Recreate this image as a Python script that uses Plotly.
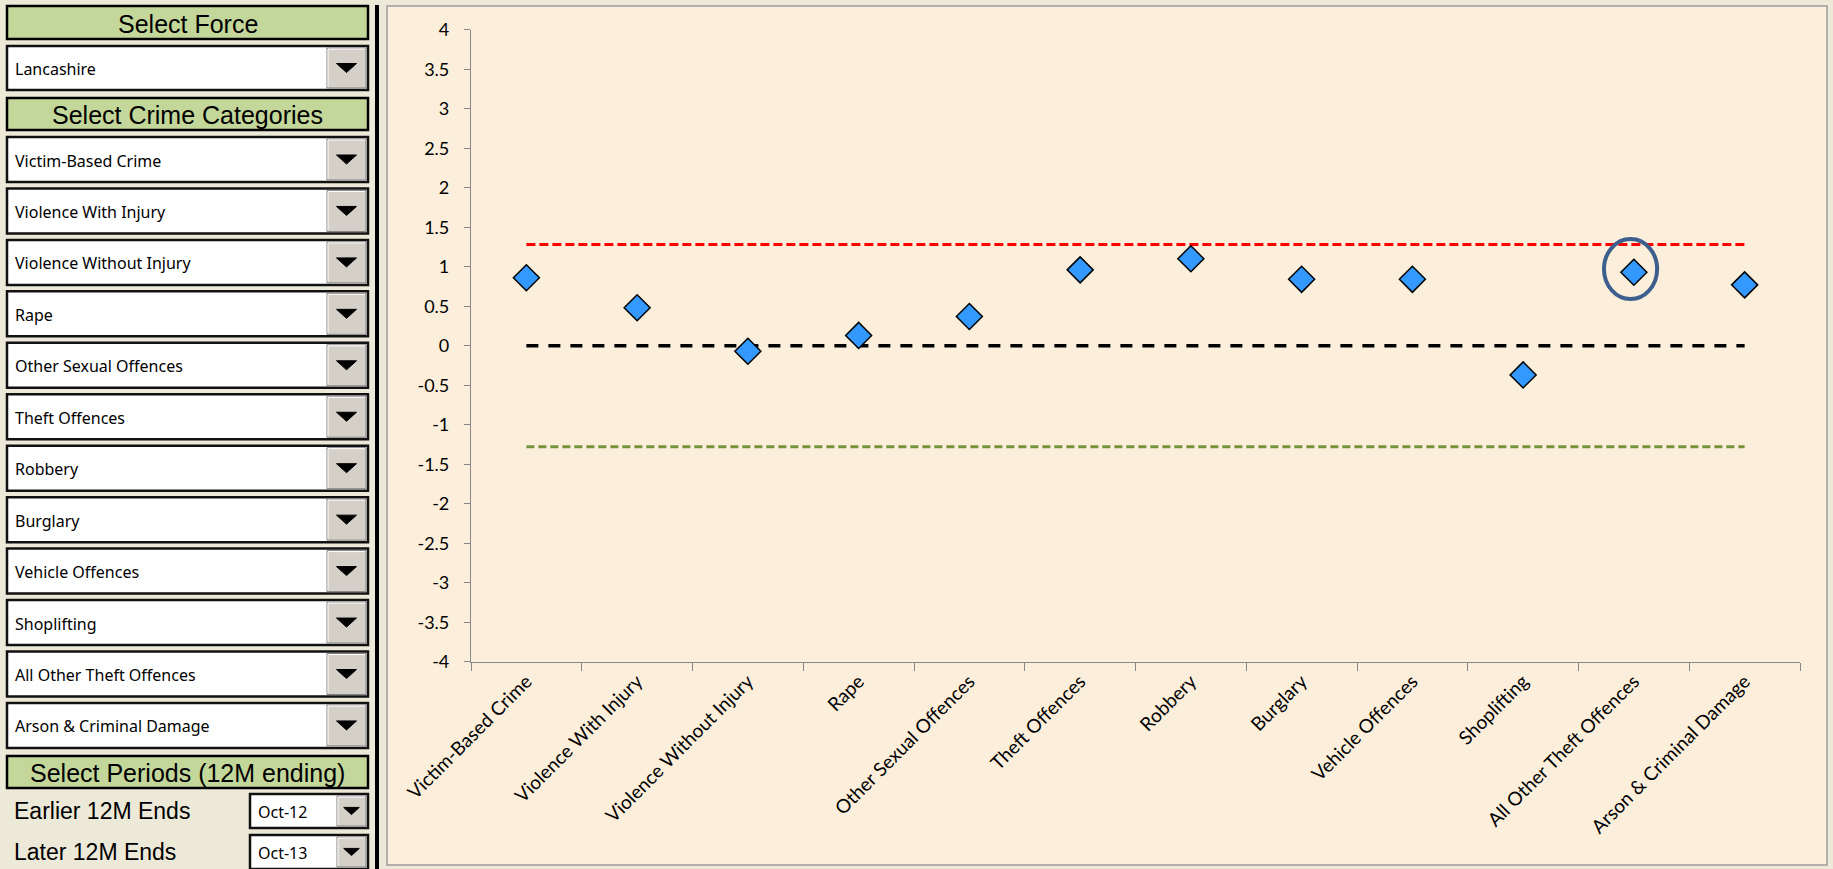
import plotly.graph_objects as go

W, H = 1833, 869

# ---------------- data ----------------
categories = ["Victim-Based Crime", "Violence With Injury", "Violence Without Injury", "Rape",
              "Other Sexual Offences", "Theft Offences", "Robbery", "Burglary",
              "Vehicle Offences", "Shoplifting", "All Other Theft Offences",
              "Arson & Criminal Damage"]
z_scores = [0.86, 0.48, -0.07, 0.13, 0.37, 0.96, 1.10, 0.84, 0.84, -0.37, 0.93, 0.77]
upper_limit = [1.28] * 12
centre_line = [0] * 12
lower_limit = [-1.28] * 12
y_ticks = [4, 3.5, 3, 2.5, 2, 1.5, 1, 0.5, 0, -0.5, -1, -1.5, -2, -2.5, -3, -3.5, -4]
y_tick_text = [f"{v:g}" for v in y_ticks]

force_selected = "Lancashire"
selected_categories = categories
period_labels = ["Earlier 12M Ends", "Later 12M Ends"]
period_values = ["Oct-12", "Oct-13"]
highlight = "All Other Theft Offences"

# ---------------- helpers (pixel -> paper) ----------------
def px(x):
    return x / W


def py(y):
    return 1 - y / H


shapes = []
annotations = []

PANEL_BG = "#ECE9D8"
HEADER_FILL = "#C4D79B"
BTN_FILL = "#D4D0C8"
UI_FONT = "Noto Sans, DejaVu Sans, sans-serif"
HDR_FONT = "Liberation Sans, Arial, sans-serif"


def rect(x0, y0, x1, y1, fill, line_color=None, line_width=0, layer="below"):
    shapes.append(dict(type="rect", xref="paper", yref="paper",
                       x0=px(x0), x1=px(x1), y0=py(y1), y1=py(y0),
                       fillcolor=fill,
                       line=dict(color=line_color or fill, width=line_width),
                       layer=layer))


def seg(x0, y0, x1, y1, color, width):
    shapes.append(dict(type="line", xref="paper", yref="paper",
                       x0=px(x0), x1=px(x1), y0=py(y0), y1=py(y1),
                       line=dict(color=color, width=width), layer="below"))


def text(x, y, s, size, font, anchor="left", color="black"):
    annotations.append(dict(xref="paper", yref="paper", x=px(x), y=py(y), text=s,
                            showarrow=False, xanchor=anchor, yanchor="middle",
                            font=dict(family=font, size=size, color=color)))


def header(y0, y1, label):
    rect(7, y0, 368, y1, HEADER_FILL, "black", 2.5)
    text((7 + 368) / 2, (y0 + y1) / 2 + 1, label, 25, HDR_FONT, anchor="center")


def dropdown(x0, y0, x1, y1, label, size=16, btn_w=40):
    rect(x0, y0, x1, y1, "white", "#111111", 2.5)
    bx0, bx1 = x1 - btn_w - 1, x1 - 2
    rect(bx0, y0 + 2, bx1, y1 - 2, BTN_FILL, "#808080", 1)
    seg(bx0 + 1, y0 + 3, bx1 - 1, y0 + 3, "white", 1)
    seg(bx0 + 1, y0 + 3, bx0 + 1, y1 - 3, "white", 1)
    cx, cy = (bx0 + bx1) / 2, (y0 + y1) / 2
    tw, th = min(10, btn_w * 0.26), min(4.5, btn_w * 0.12)
    shapes.append(dict(type="path", xref="paper", yref="paper",
                       path=(f"M {px(cx - tw)},{py(cy - th)} L {px(cx + tw)},{py(cy - th)} "
                             f"L {px(cx)},{py(cy + th)} Z"),
                       fillcolor="black", line=dict(color="black", width=1), layer="below"))
    text(x0 + 6, cy + 1, label, size, UI_FONT)


# left panel background
rect(0, 0, W, H, PANEL_BG)
# separator bar
rect(375, 5, 379, H, "#000000")

header(6, 39, "Select Force")
dropdown(7, 46, 368, 90, force_selected)
header(98, 130, "Select Crime Categories")
for i, c in enumerate(selected_categories):
    top = 137 + 51.45 * i
    dropdown(7, top, 368, top + 45, c)
header(756, 788, "Select Periods (12M ending)")
for i, (lab, val) in enumerate(zip(period_labels, period_values)):
    top = 794 + 41 * i
    text(12, top + 17, lab, 23, HDR_FONT)
    dropdown(250, top, 368, top + 34, val, size=16, btn_w=30)

# chart frame
rect(387, 6, 1827, 865, "#FBEFDB", "#9C9C9C", 1.5)

# highlight ellipse around chosen category
hi = categories.index(highlight)
hv = z_scores[hi]
shapes.append(dict(type="circle", xref="x", yref="y",
                   x0=hi - 0.27, x1=hi + 0.21, y0=hv + 0.04 - 0.38, y1=hv + 0.04 + 0.38,
                   line=dict(color="#3D5F8E", width=4), layer="above"))

fig = go.Figure()
fig.add_trace(go.Scatter(x=categories, y=upper_limit, mode="lines",
                         line=dict(color="#FF0000", width=3, dash="9px,4px"),
                         hoverinfo="skip", showlegend=False))
fig.add_trace(go.Scatter(x=categories, y=centre_line, mode="lines",
                         line=dict(color="#000000", width=3.5, dash="12px,10px"),
                         hoverinfo="skip", showlegend=False))
fig.add_trace(go.Scatter(x=categories, y=lower_limit, mode="lines",
                         line=dict(color="#77933C", width=3, dash="8px,4px"),
                         hoverinfo="skip", showlegend=False))
fig.add_trace(go.Scatter(x=categories, y=z_scores, mode="markers",
                         marker=dict(symbol="diamond", size=20, color="#3399FF",
                                     line=dict(color="black", width=1.5)),
                         showlegend=False))

CHART_FONT = "Lato, Open Sans, sans-serif"
fig.update_layout(
    width=W, height=H, autosize=False,
    margin=dict(l=0, r=0, t=0, b=0, pad=0, autoexpand=False),
    paper_bgcolor=PANEL_BG,
    plot_bgcolor="rgba(0,0,0,0)",
    shapes=shapes,
    annotations=annotations,
    showlegend=False,
    xaxis=dict(domain=[px(471), px(1800)], type="category", range=[-0.5, 11.5],
               automargin=False,
               showgrid=False, zeroline=False, showline=True, linecolor="#868686",
               linewidth=1.2, ticks="outside", ticklen=8, tickcolor="#868686",
               tickson="boundaries", tickangle=-45,
               tickfont=dict(family=CHART_FONT, size=19, color="black")),
    yaxis=dict(domain=[py(661.7), py(29.7)], range=[-4, 4],
               automargin=False,
               tickvals=y_ticks, ticktext=y_tick_text,
               showgrid=False, zeroline=False, showline=True, linecolor="#868686",
               linewidth=1.2, ticks="outside", ticklen=6, tickcolor="#868686",
               ticklabelstandoff=11,
               tickfont=dict(family=CHART_FONT, size=18, color="black")),
)

fig.write_html("out.html", config={"displayModeBar": False},
               post_script="document.body.style.margin='0';document.body.style.overflow='hidden';")
